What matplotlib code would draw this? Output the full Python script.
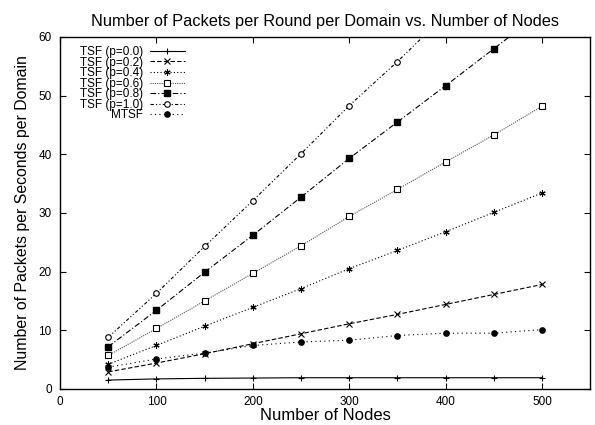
import matplotlib
matplotlib.use("Agg")
import matplotlib.pyplot as plt

plt.rcParams['font.family'] = ['Liberation Sans', 'DejaVu Sans']

nodes = [50, 100, 150, 200, 250, 300, 350, 400, 450, 500]
tsf_00 = [1.5, 1.7, 1.8, 1.85, 1.9, 1.9, 1.9, 1.9, 1.9, 1.9]
tsf_02 = [2.9, 4.4, 6.0, 7.7, 9.4, 11.1, 12.7, 14.4, 16.1, 17.8]
tsf_04 = [4.2, 7.4, 10.7, 13.9, 17.1, 20.5, 23.6, 26.8, 30.1, 33.4]
tsf_06 = [5.7, 10.3, 15.0, 19.7, 24.4, 29.4, 34.0, 38.7, 43.3, 48.2]
tsf_08 = [7.2, 13.4, 19.9, 26.2, 32.7, 39.3, 45.5, 51.7, 58.0, 64.3]
tsf_10 = [8.8, 16.3, 24.3, 32.1, 40.1, 48.3, 55.8, 63.8, 71.8, 79.8]
mtsf = [3.7, 5.1, 6.1, 7.4, 8.0, 8.3, 9.1, 9.5, 9.5, 10.1]

labels = ['TSF (p=0.0)', 'TSF (p=0.2)', 'TSF (p=0.4)', 'TSF (p=0.6)',
          'TSF (p=0.8)', 'TSF (p=1.0)', 'MTSF']

fig = plt.figure(figsize=(5.95, 4.25), dpi=100)
ax = fig.add_axes([0.101, 0.085, 0.891, 0.828])

lw = 0.8
ax.plot(nodes, tsf_00, color='black', lw=lw, ls='-', marker='+', ms=5, mew=0.8, label=labels[0])
ax.plot(nodes, tsf_02, color='black', lw=lw, ls=(0, (4, 2)), marker='x', ms=4, mew=0.8, label=labels[1])
ax.plot(nodes, tsf_04, color='black', lw=lw, ls=(0, (1, 2)), marker=(6, 2, 0), ms=4.5, mew=0.8, label=labels[2])
ax.plot(nodes, tsf_06, color='#555555', lw=lw, ls=(0, (1, 1)), marker='s', ms=3.8, mfc='white',
        mec='black', mew=0.8, label=labels[3])
ax.plot(nodes, tsf_08, color='black', lw=lw, ls=(0, (5, 2, 1, 2)), marker='s', ms=4, mfc='black',
        mec='black', label=labels[4])
ax.plot(nodes, tsf_10, color='black', lw=lw, ls=(0, (3, 2, 1, 2, 1, 2)), marker='o', ms=4, mfc='white',
        mec='black', mew=0.8, label=labels[5])
ax.plot(nodes, mtsf, color='black', lw=lw, ls=(0, (1, 3)), marker='o', ms=3.8, mfc='black',
        mec='black', label=labels[6])

ax.set_xlim(0, 550)
ax.set_ylim(0, 60)
ax.set_xticks([0, 100, 200, 300, 400, 500])
ax.set_yticks([0, 10, 20, 30, 40, 50, 60])
ax.tick_params(direction='in', top=True, right=True, length=4, width=0.8, labelsize=8.5, pad=5)
ax.tick_params(axis='y', pad=6)
for s in ax.spines.values():
    s.set_linewidth(1.0)

ax.set_title('Number of Packets per Round per Domain vs. Number of Nodes', fontsize=11.8, pad=8)
ax.set_xlabel('Number of Nodes', fontsize=12, labelpad=0)
ax.set_ylabel('Number of Packets per Seconds per Domain', fontsize=11.4, labelpad=6)

leg = ax.legend(loc='upper left', bbox_to_anchor=(0.022, 0.998), frameon=False, markerfirst=False,
                fontsize=8.5, handlelength=2.9, handletextpad=0.6, labelspacing=-0.12, borderpad=0.2)
leg._legend_handle_box.get_children()[0].align = 'right'

fig.savefig('out.png', dpi=100)
